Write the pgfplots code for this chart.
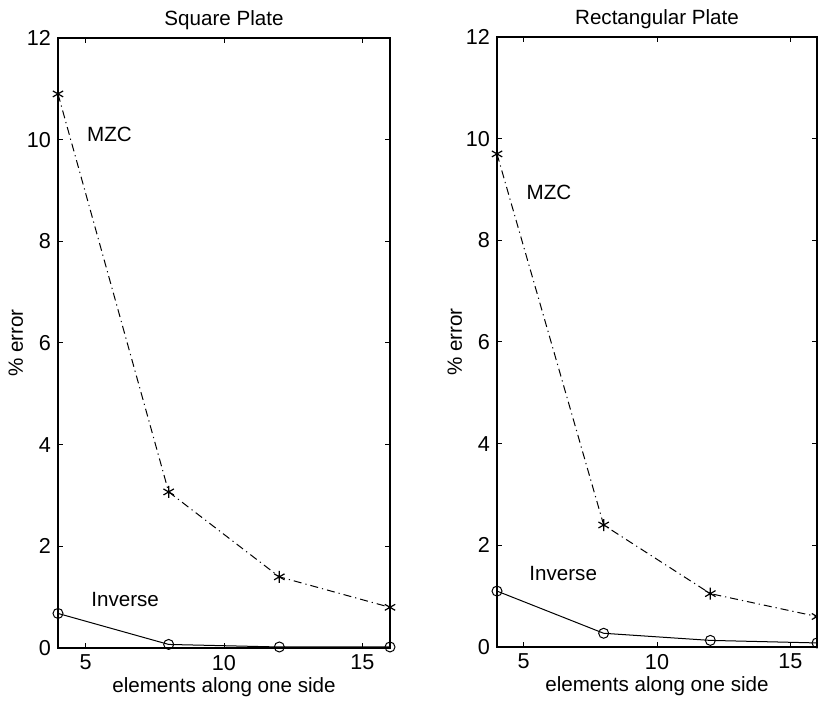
\documentclass[border=0pt]{standalone}
\usepackage{pgfplots}
\pgfplotsset{compat=1.18}
\usepackage{fontspec}
\setmainfont{Liberation Sans}
\begin{document}
\begin{tikzpicture}
\pgfplotsset{
  plate/.style={
    scale only axis, height=305pt,
    xmin=4, xmax=16, ymin=0, ymax=12,
    xtick={5,10,15}, ytick={0,2,...,12},
    tick align=inside, major tick length=2.5pt,
    every tick/.style={black, line width=0.5pt},
    axis line style={line width=0.6pt},
    /pgf/number format/assume math mode=true,
    font=\fontsize{10.3}{12}\selectfont,
    tick label style={font=\fontsize{10.8}{12}\selectfont},
    title style={yshift=-5.5pt},
    xlabel={elements along one side},
    ylabel={\% error},
    xlabel style={yshift=3.5pt},
    ylabel style={yshift=-5pt},
    clip=false,
  },
  mzc/.style={black, line width=0.5pt, dash pattern=on 4pt off 2pt on 0.6pt off 2pt,
    mark=asterisk, mark size=3pt, mark options={solid, line width=0.6pt}},
  inv/.style={black, line width=0.5pt, mark=o, mark size=2.5pt, mark options={solid, line width=0.5pt}},
}
\useasboundingbox (0,0) rectangle (409pt,350.5pt);
\begin{axis}[plate, width=166pt, at={(29pt,26.5pt)}, anchor=south west, title={Square Plate}]
\addplot[mzc] coordinates {(4,10.9) (8,3.07) (12,1.4) (16,0.8)};
\addplot[inv] coordinates {(4,0.68) (8,0.07) (12,0.02) (16,0.02)};
\node[anchor=west] at (axis cs:4.8,10.1) {MZC};
\node[anchor=west] at (axis cs:4.95,0.95) {Inverse};
\end{axis}
\begin{axis}[plate, width=160pt, at={(248.5pt,27pt)}, anchor=south west, title={Rectangular Plate}]
\addplot[mzc] coordinates {(4,9.7) (8,2.4) (12,1.05) (16,0.6)};
\addplot[inv] coordinates {(4,1.1) (8,0.27) (12,0.13) (16,0.08)};
\node[anchor=west] at (axis cs:4.85,8.95) {MZC};
\node[anchor=west] at (axis cs:4.95,1.45) {Inverse};
\end{axis}
\end{tikzpicture}
\end{document}
